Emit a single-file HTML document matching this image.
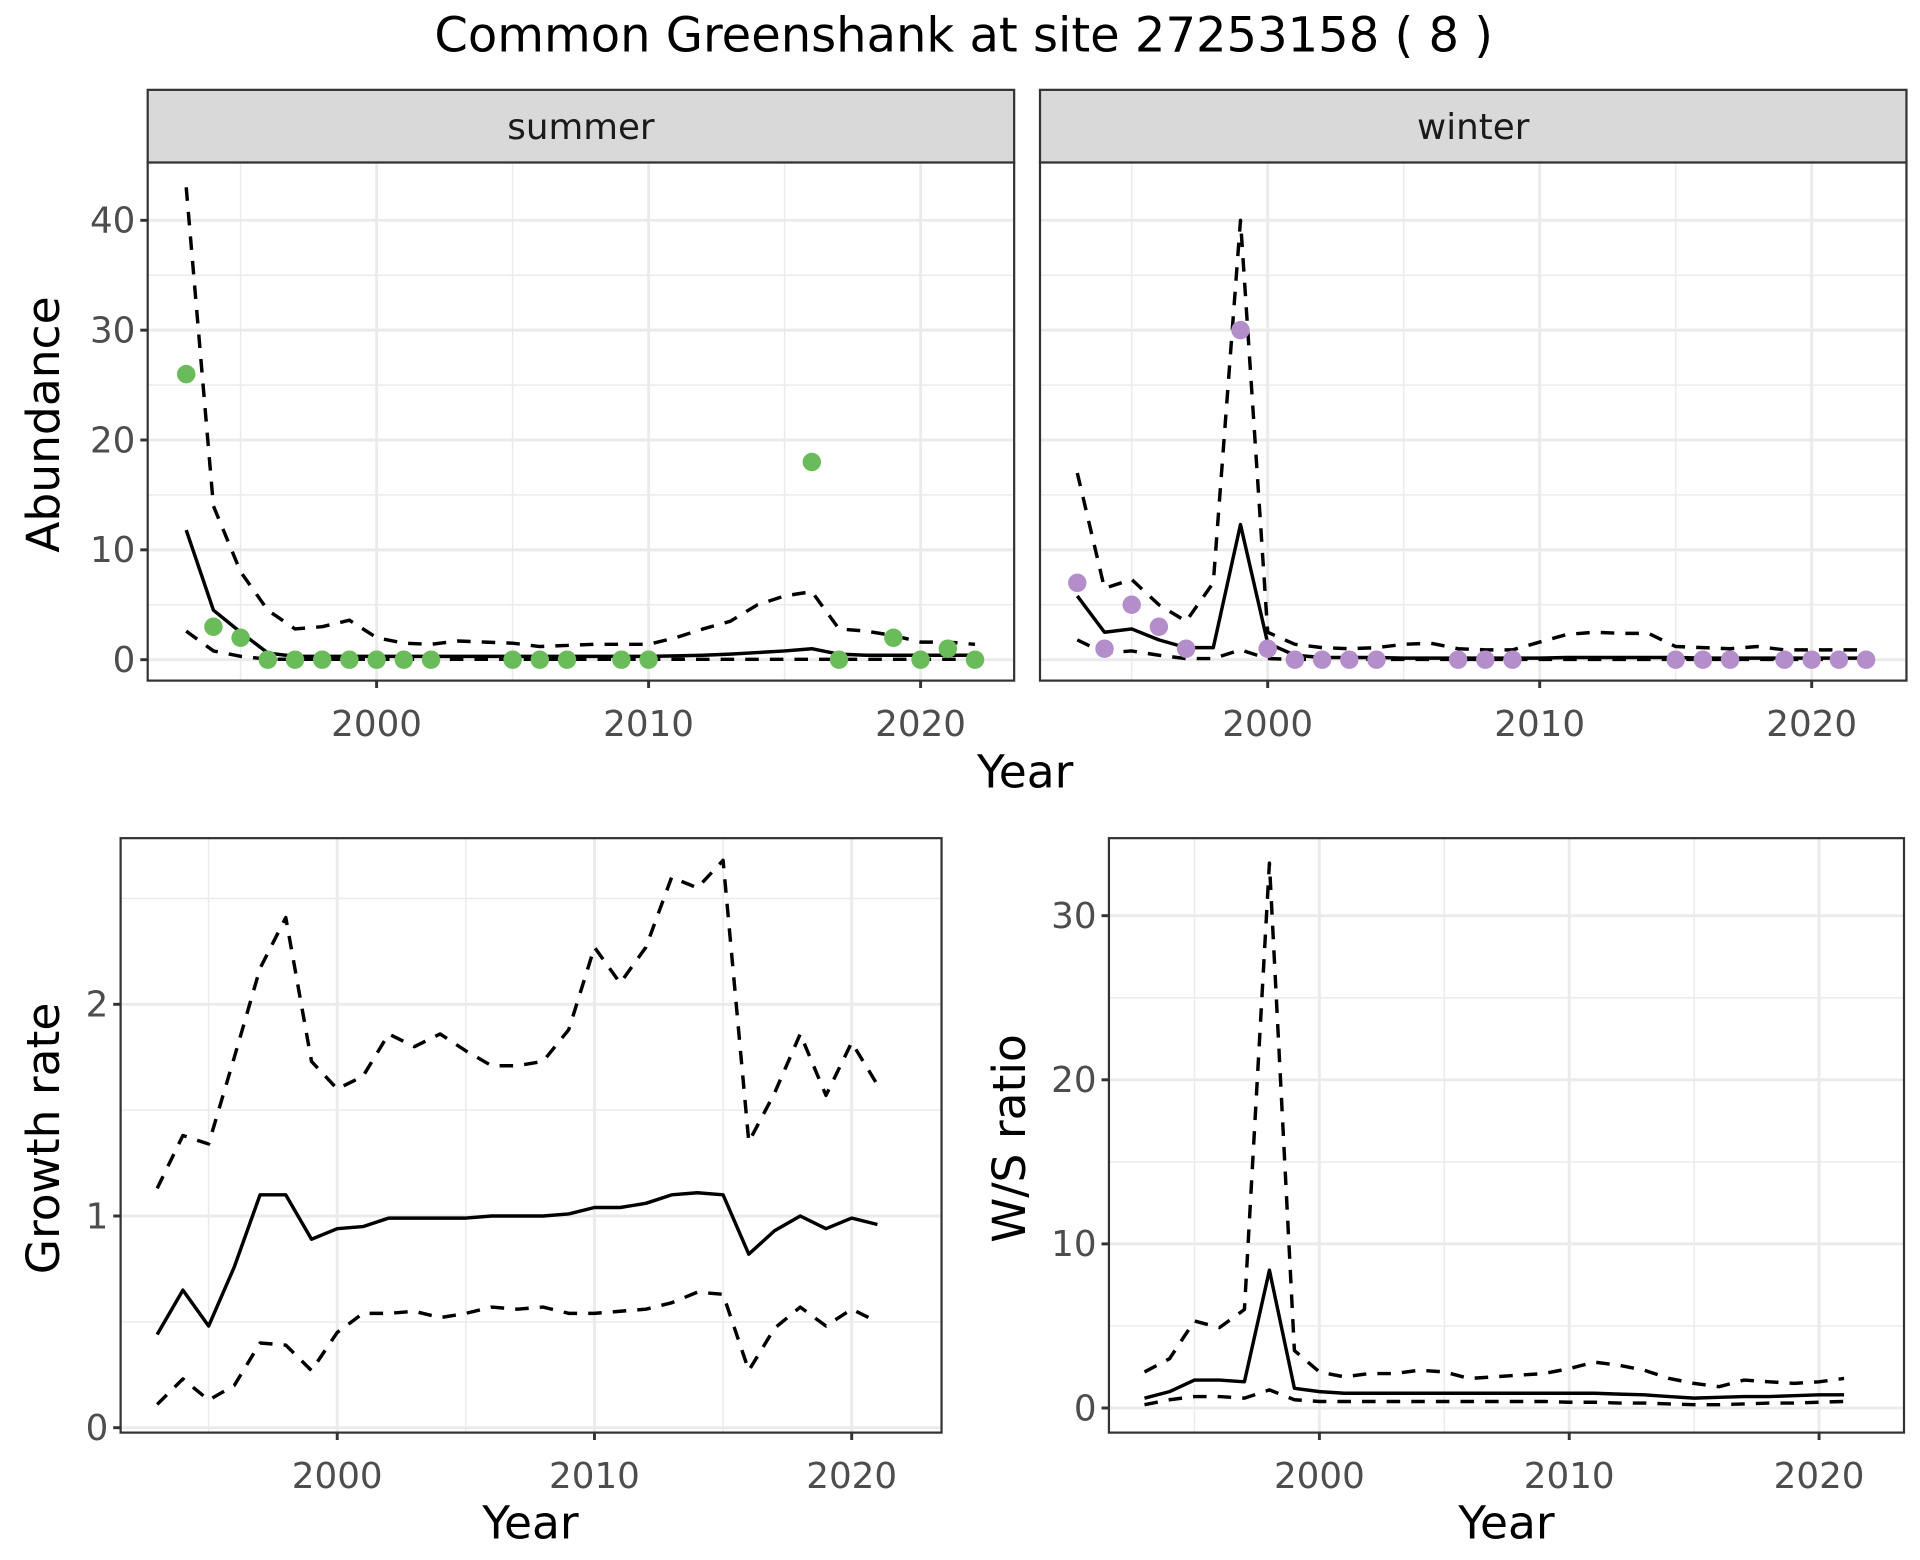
<!DOCTYPE html>
<html><head><meta charset="utf-8"><style>
html,body{margin:0;padding:0;background:#fff}
svg{display:block}
text{font-family:"DejaVu Sans","Liberation Sans",sans-serif}
</style></head><body>
<svg id="chart" width="1920" height="1560" viewBox="0 0 1560 1267.5" xmlns="http://www.w3.org/2000/svg">
<rect width="1560" height="1267.5" fill="#fff"/>
<text x="783" y="42" font-size="39" text-anchor="middle" fill="#000">Common Greenshank at site 27253158 ( 8 )</text>
</svg>
<script>
// ---- data ----
const yearsAll = [1993,1994,1995,1996,1997,1998,1999,2000,2001,2002,2003,2004,2005,2006,2007,2008,2009,2010,2011,2012,2013,2014,2015,2016,2017,2018,2019,2020,2021,2022];
const summerPtYears = [1993,1994,1995,1996,1997,1998,1999,2000,2001,2002,2005,2006,2007,2009,2010,2016,2017,2019,2020,2021,2022];
const summerPtVals = [26,3,2,0,0,0,0,0,0,0,0,0,0,0,0,18,0,2,0,1,0];
const summerMid = [11.8,4.5,2.5,0.6,0.3,0.3,0.3,0.3,0.3,0.3,0.3,0.3,0.3,0.3,0.3,0.3,0.3,0.3,0.35,0.4,0.5,0.65,0.8,1.0,0.5,0.4,0.4,0.4,0.4,0.4];
const summerUp = [43,14,8,4.5,2.8,3,3.6,2,1.5,1.4,1.7,1.6,1.5,1.2,1.3,1.4,1.4,1.4,2,2.8,3.5,5,5.8,6.2,2.8,2.6,2.2,1.6,1.6,1.4];
const summerLo = [2.6,0.8,0.3,0.05,0.03,0.03,0.03,0.03,0.03,0.03,0.03,0.03,0.03,0.03,0.03,0.03,0.03,0.03,0.03,0.03,0.03,0.03,0.03,0.03,0.03,0.03,0.03,0.03,0.03,0.03];
const winterPtYears = [1993,1994,1995,1996,1997,1999,2000,2001,2002,2003,2004,2007,2008,2009,2015,2016,2017,2019,2020,2021,2022];
const winterPtVals = [7,1,5,3,1,30,1,0,0,0,0,0,0,0,0,0,0,0,0,0,0];
const winterMid = [5.8,2.5,2.8,1.8,1.1,1.1,12.3,1.5,0.4,0.2,0.2,0.2,0.15,0.15,0.15,0.15,0.15,0.15,0.2,0.2,0.2,0.2,0.2,0.15,0.15,0.15,0.15,0.15,0.15,0.15];
const winterUp = [17,6.5,7.3,5,3.5,7,40,2.5,1.4,1.1,1,1.1,1.4,1.5,1,0.9,0.9,1.6,2.3,2.5,2.4,2.4,1.2,1.1,1,1.2,0.9,0.9,0.9,0.9];
const winterLo = [1.8,0.6,0.8,0.4,0.1,0.1,0.9,0.1,0.02,0.02,0.02,0.02,0.02,0.02,0.02,0.02,0.02,0.02,0.02,0.02,0.02,0.02,0.02,0.02,0.02,0.02,0.02,0.02,0.02,0.02];
const years2 = [1993,1994,1995,1996,1997,1998,1999,2000,2001,2002,2003,2004,2005,2006,2007,2008,2009,2010,2011,2012,2013,2014,2015,2016,2017,2018,2019,2020,2021];
const growthMid = [0.44,0.65,0.48,0.76,1.10,1.10,0.89,0.94,0.95,0.99,0.99,0.99,0.99,1.00,1.00,1.00,1.01,1.04,1.04,1.06,1.10,1.11,1.10,0.82,0.93,1.00,0.94,0.99,0.96];
const growthUp = [1.13,1.38,1.34,1.75,2.17,2.41,1.73,1.60,1.66,1.86,1.80,1.86,1.78,1.71,1.71,1.73,1.88,2.27,2.10,2.27,2.60,2.55,2.68,1.35,1.58,1.86,1.57,1.82,1.62];
const growthLo = [0.11,0.23,0.13,0.20,0.40,0.39,0.27,0.45,0.54,0.54,0.55,0.52,0.54,0.57,0.56,0.57,0.54,0.54,0.55,0.56,0.59,0.64,0.63,0.27,0.47,0.57,0.48,0.56,0.50];
const ratioMid = [0.6,1.0,1.7,1.7,1.6,8.4,1.2,1.0,0.9,0.9,0.9,0.9,0.9,0.9,0.9,0.9,0.9,0.9,0.9,0.85,0.8,0.7,0.6,0.65,0.7,0.7,0.75,0.8,0.8];
const ratioUp = [2.2,3.0,5.3,4.9,6.0,33.2,3.5,2.2,1.9,2.1,2.1,2.3,2.2,1.8,1.9,2.0,2.1,2.4,2.8,2.6,2.3,1.8,1.5,1.3,1.7,1.6,1.5,1.6,1.8];
const ratioLo = [0.2,0.5,0.7,0.7,0.6,1.1,0.5,0.4,0.4,0.4,0.4,0.4,0.4,0.4,0.4,0.4,0.4,0.35,0.35,0.3,0.3,0.25,0.2,0.2,0.25,0.3,0.3,0.35,0.4];
const xTicks = [2000,2010,2020];
const xMinor = [1995,2005,2015];
const abTicks = [0,10,20,30,40];
const abMinor = [5,15,25,35];
const grTicks = [0,1,2];
const grMinor = [0.5,1.5,2.5];
const rtTicks = [0,10,20,30];
const rtMinor = [5,15,25];

const NS = "http://www.w3.org/2000/svg";
const svg = document.getElementById('chart');
function mk(tag, attrs, parent){
  const e = document.createElementNS(NS, tag);
  for (const k in attrs) e.setAttribute(k, attrs[k]);
  (parent||svg).appendChild(e);
  return e;
}
function linear(d0,d1,r0,r1){ return v => r0 + (v-d0)*(r1-r0)/(d1-d0); }

function panel(cfg){
  const g = mk('g', {});
  
  
  const {x0,x1,y0,y1,xs,ys} = cfg;
  mk('rect',{x:x0,y:y0,width:x1-x0,height:y1-y0,fill:'#fff'},g);
  cfg.xMinor.forEach(v=>mk('line',{x1:xs(v),x2:xs(v),y1:y0,y2:y1,stroke:'#ebebeb','stroke-width':1.2},g));
  cfg.yMinor.forEach(v=>{const y=ys(v); if(y>y0&&y<y1) mk('line',{x1:x0,x2:x1,y1:y,y2:y,stroke:'#ebebeb','stroke-width':1.2},g);});
  cfg.xTicks.forEach(v=>{
    mk('line',{x1:xs(v),x2:xs(v),y1:y0,y2:y1,stroke:'#ebebeb','stroke-width':2.4},g);
    mk('line',{x1:xs(v),x2:xs(v),y1:y1,y2:y1+6,stroke:'#333','stroke-width':2.4},g);
    const t = mk('text',{x:xs(v),y:y1+45,'font-size':29,'text-anchor':'middle',fill:'#4d4d4d'},g);
    
    
    t.textContent = v;
  });
  cfg.yTicks.forEach(v=>{
    const y=ys(v);
    mk('line',{x1:x0,x2:x1,y1:y,y2:y,stroke:'#ebebeb','stroke-width':2.4},g);
    if(cfg.yLabels){
      mk('line',{x1:x0-6,x2:x0,y1:y,y2:y,stroke:'#333','stroke-width':2.4},g);
      const t = mk('text',{x:x0-10,y:y+10,'font-size':29,'text-anchor':'end',fill:'#4d4d4d'},g);
      
      
      t.textContent = v;
    }
  });
  const line = (xsArr, vals, dash, nm) => {
    const d = vals.map((v,i)=>(i?'L':'M')+xs(xsArr[i]).toFixed(1)+','+ys(v).toFixed(1)).join('');
    const p = mk('path',{d:d,fill:'none',stroke:'#000','stroke-width':2.8,'stroke-dasharray':dash||'none','stroke-linejoin':'round'},g);
    
    
  };
  line(cfg.lx, cfg.up, '11,9', 'upper-ci-line');
  line(cfg.lx, cfg.lo, '11,9', 'lower-ci-line');
  line(cfg.lx, cfg.mid, null, 'estimate-line');
  if(cfg.px){
    cfg.px.forEach((yr,i)=>{
      const c = mk('circle',{cx:xs(yr),cy:ys(cfg.pv[i]),r:7.5,fill:cfg.color},g);
      
      
    });
  }
  mk('rect',{x:x0,y:y0,width:x1-x0,height:y1-y0,fill:'none',stroke:'#333','stroke-width':1.8},g);
  return g;
}

// top panels
const abY = linear(0,40,536,179);
const sx = linear(2000,2020,306,748);
const wx = linear(2000,2020,1030,1472);
panel({name:'summer-panel',x0:120,x1:824,y0:132,y1:553,xs:sx,ys:abY,xTicks,xMinor,yTicks:abTicks,yMinor:abMinor,yLabels:true,lx:yearsAll,mid:summerMid,up:summerUp,lo:summerLo,px:summerPtYears,pv:summerPtVals,color:'#6abb5a'});
panel({name:'winter-panel',x0:845,x1:1549,y0:132,y1:553,xs:wx,ys:abY,xTicks,xMinor,yTicks:abTicks,yMinor:abMinor,yLabels:false,lx:yearsAll,mid:winterMid,up:winterUp,lo:winterLo,px:winterPtYears,pv:winterPtVals,color:'#b48ecb'});
// strips
[['summer',120,824],['winter',845,1549]].forEach(s=>{
  const r = mk('rect',{x:s[1],y:73,width:s[2]-s[1],height:59,fill:'#d9d9d9',stroke:'#333','stroke-width':1.8});
  
  
  const t = mk('text',{x:(s[1]+s[2])/2,y:113,'font-size':29,'text-anchor':'middle',fill:'#1a1a1a'});
  
  
  t.textContent = s[0];
});

// bottom panels
const grY = linear(0,2,1160,816);
const gx = linear(2000,2020,274,692);
panel({name:'growth-panel',x0:98,x1:765,y0:681,y1:1164,xs:gx,ys:grY,xTicks,xMinor,yTicks:grTicks,yMinor:grMinor,yLabels:true,lx:years2,mid:growthMid,up:growthUp,lo:growthLo});
const rtY = linear(0,30,1144,744);
const rx = linear(2000,2020,1072,1478);
panel({name:'ratio-panel',x0:901,x1:1547,y0:681,y1:1164,xs:rx,ys:rtY,xTicks,xMinor,yTicks:rtTicks,yMinor:rtMinor,yLabels:true,lx:years2,mid:ratioMid,up:ratioUp,lo:ratioLo});

// axis titles
function title(txt,x,y,rot,nm){
  const t = mk('text',{x:x,y:y,'font-size':37,'text-anchor':'middle',fill:'#000',transform:rot?`rotate(-90 ${x} ${y})`:''});
  
  
  t.textContent = txt;
}
title('Year',833,640,false,'x-axis-title-top');
title('Abundance',48,345,true,'y-axis-title-abundance');
title('Year',431,1250,false,'x-axis-title-growth');
title('Growth rate',48,925,true,'y-axis-title-growth');
title('Year',1224,1250,false,'x-axis-title-ratio');
title('W/S ratio',833,925,true,'y-axis-title-ratio');
</script>
</body></html>
